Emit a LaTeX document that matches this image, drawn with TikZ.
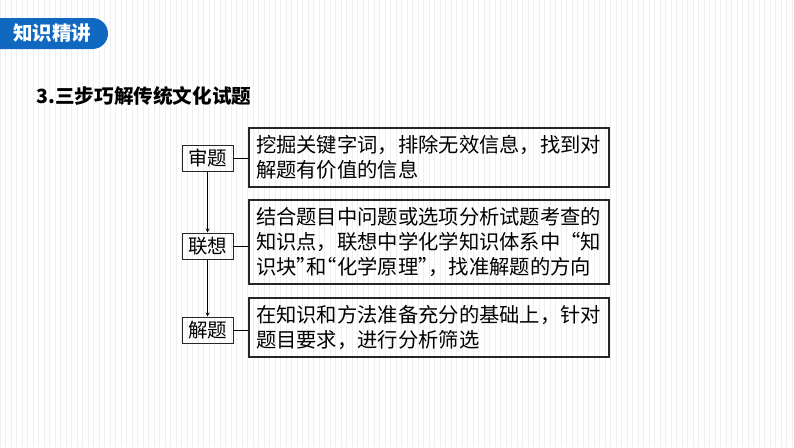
\documentclass[tikz,border=0pt]{standalone}
\usepackage{fontspec}
\newfontfamily\cjk{Noto Sans CJK SC}
\usetikzlibrary{arrows}
\definecolor{tabblue}{RGB}{16,104,192}
\definecolor{gridgray}{RGB}{238,238,238}
% half-width quotes
\newcommand{\hlq}{\makebox[0.5em][r]{“}}
\newcommand{\hrq}{\makebox[0.5em][l]{”}}

\begin{document}
\begin{tikzpicture}[x=1pt,y=-1pt,
  stepbox/.style={draw=black!85,line width=1pt,minimum width=51,minimum height=26,inner sep=0pt,font=\cjk\fontsize{19.5}{22}\selectfont},
  textbox/.style={draw=black!85,line width=1.1pt,text width=346,inner xsep=7,inner ysep=5,align=left,font=\cjk\fontsize{20.3}{25}\selectfont}]
\useasboundingbox (0,0) rectangle (794,447);
\draw[gridgray,line width=0.3pt,step=5.5] (0,0) grid (794,447); % background paper
% tab at top left
\fill[tabblue] (0,18) -- (92.5,18) arc (-90:90:15.5) -- (0,49) -- cycle;
\node[text=white,font=\cjk\bfseries\fontsize{19.5}{22}\selectfont] (tab) at (52,33.5) {知识精讲};
\node[anchor=west,font=\cjk\bfseries\fontsize{19.6}{24}\selectfont] (title) at (33,96) {3.三步巧解传统文化试题};
% steps
\node[stepbox] (shen) at (207.5,158) {审题};
\node[stepbox] (lian) at (207.5,246) {联想};
\node[stepbox] (jie) at (207.5,330) {解题};
\node[textbox,minimum height=59] (t1) at (429,157.5) {挖掘关键字词，排除无效信息，找到对\\解题有价值的信息};
\node[textbox,minimum height=84] (t2) at (429,242) {结合题目中问题或选项分析试题考查的\\知识点，联想中学化学知识体系中“知\\识块\hrq 和\hlq 化学原理\hrq ，找准解题的方向};
\node[textbox,minimum height=59] (t3) at (429,327.5) {在知识和方法准备充分的基础上，针对\\题目要求，进行分析筛选};
\draw[line width=0.8pt] (shen) -- (shen -| t1.west);
\draw[line width=0.8pt] (lian) -- (lian -| t2.west);
\draw[line width=0.8pt] (jie) -- (jie -| t3.west);
\draw[line width=0.8pt,-stealth] (shen) -- (lian);
\draw[line width=0.8pt,-stealth] (lian) -- (jie);
\end{tikzpicture}
\end{document}
